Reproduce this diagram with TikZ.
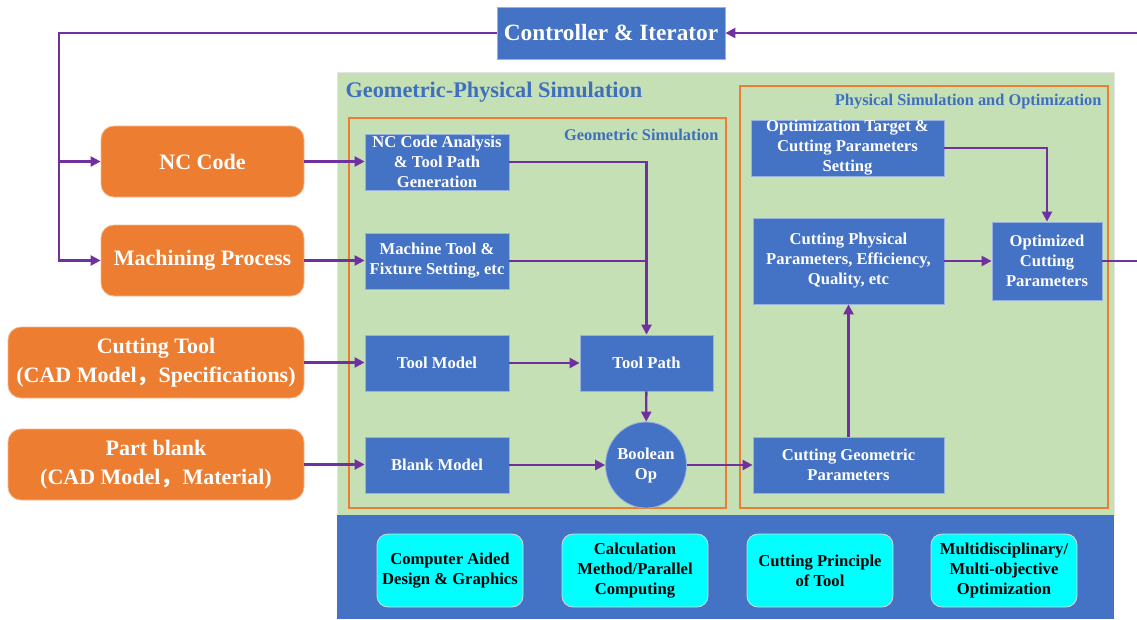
\documentclass[tikz,border=0pt]{standalone}
\usepackage{fontspec}
\setmainfont{Liberation Serif}
\newfontfamily\cjk{Noto Sans CJK SC}
\usetikzlibrary{arrows.meta, positioning, shapes.geometric, backgrounds, calc}

\definecolor{boxblue}{HTML}{4472C4}
\definecolor{inorange}{HTML}{ED7D31}
\definecolor{simgreen}{HTML}{C5E0B4}
\definecolor{linkpurple}{HTML}{7030A0}
\definecolor{basecyan}{HTML}{00FFFF}
\definecolor{titleblue}{HTML}{3F6FBF}

\begin{document}
\begin{tikzpicture}[
  x=1pt, y=-1pt,
  block/.style={
    rectangle, fill=boxblue, draw=boxblue!55!white, line width=0.8pt,
    text=white, align=center, inner sep=0pt,
    font=\bfseries\fontsize{16.6}{20}\selectfont
  },
  inblock/.style={
    rectangle, rounded corners=13pt, fill=inorange, draw=inorange!55!white,
    line width=0.8pt, text=white, align=center, inner sep=0pt,
    minimum height=71pt, font=\bfseries\fontsize{22}{29}\selectfont
  },
  baseblock/.style={
    rectangle, rounded corners=11pt, fill=basecyan, draw=white!70!gray,
    line width=0.8pt, text=black, align=center, inner sep=0pt,
    minimum width=146pt, minimum height=73pt,
    font=\bfseries\fontsize{16.6}{20}\selectfont
  },
  frame/.style={draw=inorange, line width=2pt},
  arrow/.style={-{Triangle[length=10pt,width=10pt]}, line width=2.3pt, linkpurple},
  link/.style={line width=2.3pt, linkpurple}
]
\useasboundingbox (0,0) rectangle (1137,619);

% regions
\fill[simgreen] (337,72) rectangle (1114,515);
\draw[white!80!gray, line width=0.8pt] (337,72) rectangle (1114,515);
\fill[boxblue] (337,515) rectangle (1114,619);
\draw[frame] (349,118) rectangle (726,508);
\draw[frame] (740,86) rectangle (1108,508);
\node[anchor=base west, text=titleblue, font=\bfseries\fontsize{22.3}{26}\selectfont]
  (gpsim) at (342,97) {Geometric-Physical Simulation};
\node[anchor=base east, text=titleblue, font=\bfseries\fontsize{16.4}{18}\selectfont]
  (geosim) at (722,140) {Geometric Simulation};
\node[anchor=base east, text=titleblue, font=\bfseries\fontsize{16.4}{18}\selectfont]
  (physim) at (1105,105) {Physical Simulation and Optimization};

% controller
\node[block, minimum width=228pt, minimum height=52pt,
      font=\bfseries\fontsize{23.3}{26}\selectfont] (ctrl) at (611,33) {Controller \& Iterator};

% inputs
\node[inblock, minimum width=203pt] (nc)   at (202.5,161.5) {NC Code};
\node[inblock, minimum width=203pt] (mach) at (202.5,260.5) {Machining Process};
\node[inblock, minimum width=296pt] (ctool) at (156,362.5)
  {Cutting Tool\\(CAD Model{\cjk ，}Specifications)};
\node[inblock, minimum width=296pt] (part) at (156,464.5)
  {Part blank\\(CAD Model{\cjk ，}Material)};

% geometric simulation
\node[block, minimum width=144pt, minimum height=56pt] (ncana)    at (437,162)
  {NC Code Analysis\\\& Tool Path\\Generation};
\node[block, minimum width=144pt, minimum height=56pt] (machset)  at (437,261)
  {Machine Tool \&\\Fixture Setting, etc};
\node[block, minimum width=144pt, minimum height=56pt] (toolmod)  at (437,363) {Tool Model};
\node[block, minimum width=144pt, minimum height=56pt] (blankmod) at (437,465) {Blank Model};
\node[block, minimum width=133pt, minimum height=56pt] (toolpath) at (646.5,363) {Tool Path};
\node[block, ellipse, minimum width=78pt, minimum height=86pt] (boolop) at (646,465)
  {Boolean\\Op};

% physical simulation
\node[block, minimum width=193pt, minimum height=56pt] (opttarget) at (847.5,148)
  {Optimization Target \&\\Cutting Parameters\\Setting};
\node[block, minimum width=191pt, minimum height=86pt] (cutphys) at (848.5,261)
  {Cutting Physical\\Parameters, Efficiency,\\Quality, etc};
\node[block, minimum width=110pt, minimum height=78pt] (optcut) at (1047,261)
  {Optimized\\Cutting\\Parameters};
\node[block, minimum width=191pt, minimum height=56pt] (cutgeo) at (848.5,465)
  {Cutting Geometric\\Parameters};

% base layer
\node[baseblock] (cadg)  at (450,570.5) {Computer Aided\\Design \& Graphics};
\node[baseblock] (calc)  at (635,570.5) {Calculation\\Method/Parallel\\Computing};
\node[baseblock] (princ) at (820,570.5) {Cutting Principle\\of Tool};
\node[baseblock] (multi) at (1004,570.5) {Multidisciplinary/\\Multi-objective\\Optimization};

% connectors
\coordinate (split) at (59,161.5);
\coordinate (loopr) at (1150,33);
\draw[link] (ctrl.west) -| (split);
\draw[arrow] (split) -- (nc.west);
\draw[arrow] (split) |- (mach.west);
\draw[arrow] (optcut.east) -| (loopr) -- (ctrl.east);
\draw[arrow] (nc.east) -- (nc.east -| ncana.west);
\draw[arrow] (mach.east) -- (mach.east -| machset.west);
\draw[arrow] (ctool.east) -- (ctool.east -| toolmod.west);
\draw[arrow] (part.east) -- (part.east -| blankmod.west);
\draw[arrow] (ncana.east) -| (toolpath.north);
\draw[link]  (machset.east) -- (machset.east -| toolpath.north);
\draw[arrow] (toolmod) -- (toolpath);
\draw[arrow] (toolpath) -- (boolop);
\draw[arrow] (blankmod) -- (boolop);
\draw[arrow] (boolop) -- (cutgeo);
\draw[arrow] (opttarget.east) -| (optcut.north);
\draw[arrow] (cutphys) -- (optcut);
\draw[arrow] (cutgeo) -- (cutphys);
\end{tikzpicture}
\end{document}
